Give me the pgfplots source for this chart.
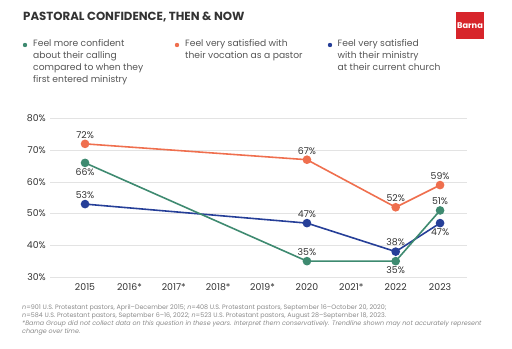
\documentclass[border=0pt]{standalone}
\usepackage{pgfplots}
\pgfplotsset{compat=1.18}
\usepackage{fontspec}
\setmainfont{Poppins}
\definecolor{cgreen}{HTML}{3E8A70}
\definecolor{corange}{HTML}{EF6F4E}
\definecolor{cblue}{HTML}{263F98}
\definecolor{cred}{HTML}{D7252B}
\definecolor{cgrid}{HTML}{E3E3E3}
\definecolor{ctext}{HTML}{333333}
\definecolor{cleg}{HTML}{555555}
\definecolor{cfoot}{HTML}{8A8A8A}
\pgfplotsset{pct/.style={nodes near coords={\pgfmathprintnumber{\pgfplotspointmeta}\%}}}
\begin{document}
\begin{tikzpicture}
\useasboundingbox (0bp,0bp) rectangle (512bp,349bp);
\node[anchor=west, font=\fontsize{11.8}{13}\selectfont\bfseries, text=ctext, inner sep=0] at (23bp,332bp) {PASTORAL CONFIDENCE, THEN \& NOW};
\fill[cred] (456bp,337bp) rectangle (484bp,310bp);
\node[text=white, font=\fontsize{8.3}{9}\selectfont\bfseries, inner sep=0] at (470bp,323.5bp) {Barna};
% legend
\fill[cgreen] (25bp,304bp) circle (2.2bp);
\node[anchor=north west, align=left, inner sep=0, text=cleg, font=\fontsize{9.2}{12}\selectfont] at (33bp,310bp) {Feel more confident\\about their calling\\compared to when they\\first entered ministry};
\fill[corange] (177bp,304bp) circle (2.2bp);
\node[anchor=north west, align=left, inner sep=0, text=cleg, font=\fontsize{9.2}{12}\selectfont] at (185bp,310bp) {Feel very satisfied with\\their vocation as a pastor};
\fill[cblue] (330bp,304bp) circle (2.2bp);
\node[anchor=north west, align=left, inner sep=0, text=cleg, font=\fontsize{9.2}{12}\selectfont] at (337.5bp,310bp) {Feel very satisfied\\with their ministry\\at their current church};
% footnote
\node[anchor=north west, align=left, inner sep=0, text=cfoot, font=\fontsize{6.4}{8.2}\selectfont] at (22bp,45bp) {\textit{n}=901 U.S. Protestant pastors, April--December 2015; \textit{n}=408 U.S. Protestant pastors, September 16--October 20, 2020;\\
\textit{n}=584 U.S. Protestant pastors, September 6--16, 2022; \textit{n}=523 U.S. Protestant pastors, August 28--September 18, 2023.\\
\itshape *Barna Group did not collect data on this question in these years. Interpret them conservatively. Trendline shown may not accurately represent\\
\itshape change over time.};
\begin{axis}[at={(50bp,72bp)}, anchor=south west, scale only axis,
  width=416.7bp, height=158.5bp,
  xmin=2014.21, xmax=2023.6, ymin=30, ymax=80,
  axis line style={draw=none}, clip=false,
  major tick length=0pt,
  ytick={30,40,50,60,70,80},
  yticklabels={30\%,40\%,50\%,60\%,70\%,80\%},
  xtick={2015,2016,2017,2018,2019,2020,2021,2022,2023},
  xticklabels={2015,2016*,2017*,2018*,2019*,2020,2021*,2022,2023},
  ymajorgrids, grid style={cgrid, line width=0.6pt},
  tick label style={font=\fontsize{9.4}{10}\selectfont, text=ctext},
  yticklabel style={anchor=east, xshift=-4bp, inner sep=0},
  xticklabel style={yshift=-3bp},
  /pgf/number format/assume math mode=true,
  every node near coord/.append style={font=\fontsize{9.4}{10}\selectfont, text=ctext},
]
\addplot[corange, line width=1.6pt, mark=*, mark size=3.5pt, mark options={fill=corange}] coordinates {(2015,72) (2020,67) (2022,52) (2023,59)};
\addplot[cblue, line width=1.6pt, mark=*, mark size=3.5pt, mark options={fill=cblue}] coordinates {(2015,53) (2020,47) (2022,38) (2023,47)};
\addplot[cgreen, line width=1.6pt, mark=*, mark size=3.5pt, mark options={fill=cgreen}] coordinates {(2015,66) (2020,35) (2022,35) (2023,51)};
% labels above
\addplot[draw=none, mark=none, pct, point meta=y, nodes near coords align={above}, every node near coord/.append style={yshift=2bp}] coordinates {(2015,72) (2020,67) (2022,52) (2023,59) (2015,53) (2020,47) (2022,38) (2020,35) (2023,51)};
% labels below
\addplot[draw=none, mark=none, pct, point meta=y, nodes near coords align={below}, every node near coord/.append style={yshift=-2bp}] coordinates {(2015,66) (2022,35) (2023,47)};
\end{axis}
\end{tikzpicture}
\end{document}
